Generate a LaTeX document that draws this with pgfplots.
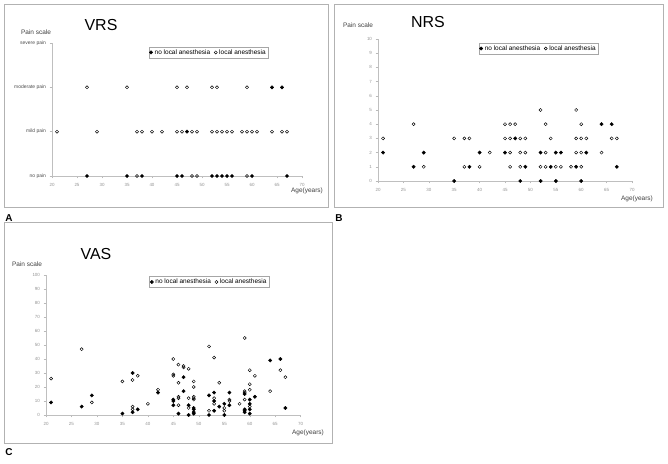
\documentclass[border=0pt]{standalone}
\usepackage{fontspec}
\setmainfont{Liberation Sans}
\usepackage{pgfplots}
\pgfplotsset{compat=1.18}
\pgfplotsset{
 panel/.style={scale only axis, clip=false, axis x line*=bottom, axis y line*=left,
   axis line style={gray!50, line width=0.6bp},
   xmin=20,xmax=70, xtick={20,25,...,70},
   tick style={gray!55, line width=0.5bp}, major tick length=2.5bp, tick align=outside,
   tick label style={font=\fontsize{4.5}{5}\selectfont, text=gray!85},
   /pgf/number format/assume math mode=true,
   xticklabel style={yshift=-1bp},
   legend columns=2,
   legend style={draw=gray!70, line width=0.4bp, font=\fontsize{6.5}{7}\selectfont, inner sep=0.6bp, anchor=center, /tikz/every even column/.append style={column sep=2bp}},
   legend cell align=left,
 },
 filled/.style={only marks, mark=*, mark size=1.7bp, black},
 hollow/.style={only marks, mark=o, mark size=1.55bp, black, mark options={line width=0.45bp}},
}
\begin{document}
\begin{tikzpicture}[x=1bp,y=1bp]
\path[use as bounding box] (0,0) rectangle (668,464);
% frames
\draw[gray!60, line width=0.8bp] (4,460) rectangle (328,257);
\draw[gray!60, line width=0.8bp] (334,460) rectangle (663,257);
\draw[gray!60, line width=0.8bp] (4,242) rectangle (332,21);
% panel letters
\node[font=\bfseries\fontsize{10}{10}\selectfont] at (9,246) {A};
\node[font=\bfseries\fontsize{10}{10}\selectfont] at (339,246) {B};
\node[font=\bfseries\fontsize{10}{10}\selectfont] at (9,12) {C};
% titles
\node[font=\fontsize{16}{16}\selectfont] at (101,439) {VRS};
\node[font=\fontsize{16}{16}\selectfont] at (428,442) {NRS};
\node[font=\fontsize{16}{16}\selectfont] at (96,210) {VAS};
% pain scale
\node[font=\fontsize{6.5}{7}\selectfont, text=black!75] at (36,432) {Pain scale};
\node[font=\fontsize{6.5}{7}\selectfont, text=black!75] at (358,439) {Pain scale};
\node[font=\fontsize{6.5}{7}\selectfont, text=black!75] at (27,200) {Pain scale};
% age
\node[font=\fontsize{6.5}{7}\selectfont, text=black!75] at (307,273) {Age(years)};
\node[font=\fontsize{6.5}{7}\selectfont, text=black!75] at (637,265) {Age(years)};
\node[font=\fontsize{6.5}{7}\selectfont, text=black!75] at (308,31) {Age(years)};

% ---------- A: VRS
\begin{axis}[panel, at={(52bp,288bp)}, anchor=south west, width=250bp, height=133bp,
  ymin=0, ymax=3, ytick={0,1,2,3},
  yticklabels={no pain, mild pain, moderate pain, severe pain},
  yticklabel style={font=\fontsize{5}{5}\selectfont, text=black!70},
  legend style={at={(0.626,0.929)}}]
\addplot[filled] coordinates {(64,2)(66,2)(47,1)(27,0)(35,0)(38,0)(45,0)(46,0)(52,0)(53,0)(54,0)(55,0)(56,0)(60,0)(67,0)};
\addplot[hollow] coordinates {(27,2)(35,2)(45,2)(47,2)(52,2)(53,2)(59,2)
(21,1)(29,1)(37,1)(38,1)(40,1)(42,1)(45,1)(46,1)(48,1)(49,1)(52,1)(53,1)(54,1)(55,1)(56,1)(58,1)(59,1)(60,1)(61,1)(64,1)(66,1)(67,1)
(37,0)(48,0)(49,0)(59,0)};
\legend{no local anesthesia, local anesthesia}
\end{axis}

% ---------- B: NRS
\begin{axis}[panel, at={(378bp,283bp)}, anchor=south west, width=254bp, height=142bp,
  ymin=0, ymax=10, ytick={0,1,...,10},
  legend style={at={(0.632,0.933)}}]
\addplot[filled] coordinates {(64,4)(66,4)(47,3)(21,2)(29,2)(40,2)(45,2)(52,2)(55,2)(56,2)(61,2)(27,1)(38,1)(49,1)(54,1)(59,1)(67,1)(35,0)(48,0)(52,0)(55,0)(60,0)};
\addplot[hollow] coordinates {(52,5)(59,5)(27,4)(45,4)(46,4)(47,4)(53,4)(60,4)
(21,3)(35,3)(37,3)(38,3)(45,3)(46,3)(48,3)(49,3)(54,3)(59,3)(60,3)(61,3)(66,3)(67,3)
(42,2)(46,2)(48,2)(49,2)(53,2)(59,2)(60,2)(64,2)
(29,1)(37,1)(40,1)(46,1)(48,1)(52,1)(53,1)(55,1)(56,1)(58,1)(60,1)};
\legend{no local anesthesia, local anesthesia}
\end{axis}

% ---------- C: VAS
\begin{axis}[panel, at={(46bp,49bp)}, anchor=south west, width=254.7bp, height=140bp,
  ymin=0, ymax=100, ytick={0,10,...,100},
  legend style={at={(0.641,0.95)}}]
\addplot[filled] coordinates {(21,9)(27,6)(29,14)(35,1)(37,30)(37,2)(38,4)(42,16)(45,11)(45,10)(45,7)(46,1)(47,27)(47,17)(48,7)(48,0)(49,5)(49,4)(49,2)(49,1)(52,14)(52,0)(53,16)(53,10)(53,3)(54,6)(55,8)(55,0)(56,16)(56,7)(59,15)(59,4)(59,3)(59,2)(60,11)(60,8)(60,4)(60,1)(61,13)(64,39)(66,40)(67,5)};
\addplot[hollow] coordinates {(21,26)(27,47)(29,9)(35,24)(37,25)(37,6)(37,4)(38,28)(40,8)(42,18)(45,40)(45,29)(45,28)(46,36)(46,23)(46,13)(46,12)(46,7)(47,35)(47,34)(48,33)(48,12)(48,5)(49,24)(49,20)(49,13)(49,12)(49,11)(52,49)(52,3)(53,41)(53,12)(53,8)(54,23)(55,5)(55,3)(56,11)(56,10)(58,8)(59,55)(59,17)(59,16)(59,11)(60,32)(60,22)(60,18)(60,6)(61,28)(64,17)(66,32)(67,27)};
\legend{no local anesthesia, local anesthesia}
\end{axis}
\end{tikzpicture}
\end{document}
